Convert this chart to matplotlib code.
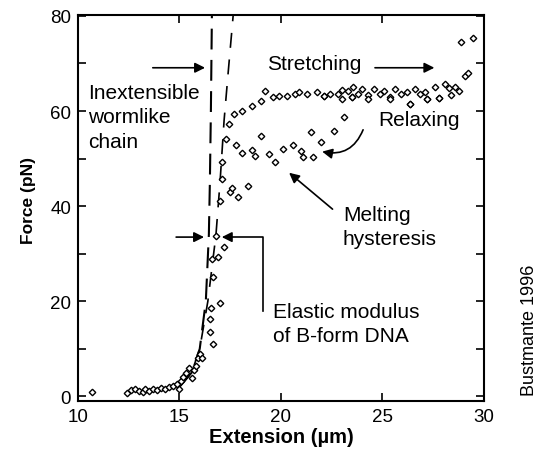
import matplotlib.pyplot as plt
from matplotlib.ticker import MultipleLocator, FixedLocator

plt.rcParams['font.family'] = ['Liberation Sans', 'DejaVu Sans']

# stretching branch (extension um, force pN)
stretch_ext = [10.7, 12.4, 12.6, 12.8, 13.0, 13.2, 13.3, 13.5, 13.7, 13.9, 14.1, 14.3,
               14.5, 14.7, 14.9, 15.0, 15.1, 15.2, 15.3, 15.45, 15.6, 15.7, 15.8, 15.9,
               16.0, 16.1, 16.65, 16.5, 16.5, 16.55, 17.0, 16.65, 16.6, 16.8, 17.2, 16.9,
               17.0, 17.45, 17.7, 18.1, 18.6, 19.0, 19.2, 19.6, 19.9, 20.3, 20.7, 20.9,
               21.3, 21.8, 22.1, 22.4, 22.8, 23.0, 23.3, 23.5, 23.55, 23.8, 24.0, 24.3,
               24.6, 24.9, 25.1, 25.4, 25.6, 25.9, 26.2, 26.35, 26.6, 26.85, 27.1, 27.2,
               27.6, 27.8, 28.1, 28.3, 28.6, 28.8, 29.05, 29.2, 28.9, 29.45,
               22.1, 23.0, 23.5, 24.3, 25.4, 26.35, 27.2, 27.8, 28.4]
stretch_force = [1.0, 0.8, 1.3, 1.6, 1.2, 1.0, 1.5, 1.2, 1.6, 1.3, 1.8, 1.5,
                 2.0, 2.2, 2.6, 1.6, 3.2, 4.0, 5.0, 6.0, 3.8, 5.5, 6.5, 8.0,
                 9.0, 8.0, 11.1, 13.6, 16.3, 18.6, 19.6, 25.1, 28.9, 33.7, 31.4, 29.3,
                 41.1, 57.2, 59.3, 60.0, 61.0, 62.1, 64.2, 62.9, 63.1, 63.1, 63.5, 63.9,
                 63.5, 63.9, 63.1, 63.5, 63.5, 64.5, 64.2, 62.9, 65.0, 63.5, 64.6, 63.3,
                 64.6, 63.5, 64.2, 62.9, 64.6, 63.6, 63.9, 61.5, 64.6, 63.5, 64.0, 62.5,
                 65.0, 62.7, 65.6, 64.8, 65.0, 64.2, 67.3, 67.9, 74.6, 75.3,
                 63.1, 62.5, 62.9, 62.6, 62.5, 61.5, 62.5, 62.7, 63.4]

# relaxing branch
relax_ext = [17.5, 17.6, 17.1, 17.1, 17.3, 17.8, 17.9, 18.1, 18.4, 18.6, 18.7, 19.0,
             19.4, 19.7, 20.1, 20.6, 21.0, 21.1, 21.5, 21.6, 22.0, 22.6, 23.1]
relax_force = [42.9, 43.8, 45.7, 49.2, 54.1, 52.8, 42.0, 51.1, 44.2, 51.8, 50.5, 54.7,
               50.9, 49.3, 52.0, 52.8, 51.6, 50.3, 55.6, 50.3, 53.4, 55.8, 58.7]

# model curves (dashed)
wlc_ext = [15.0, 15.6, 16.0, 16.3, 16.45, 16.5, 16.55, 16.6]
wlc_force = [2, 5, 10, 20, 34, 45, 60, 80.2]
ext_wlc_ext = [15.0, 15.6, 16.0, 16.4, 16.8, 17.0, 17.2, 17.4, 17.65]
ext_wlc_force = [2, 5, 10, 20, 34, 45, 58, 68, 80.2]

fig = plt.figure(figsize=(5.43, 4.56), dpi=100)
ax = fig.add_axes([0.1436, 0.118, 0.7474, 0.847])

ax.plot(wlc_ext, wlc_force, color='black', lw=1.5, dashes=(10, 5))
ax.plot(ext_wlc_ext, ext_wlc_force, color='black', lw=1.2, dashes=(9, 7))
ax.plot(stretch_ext, stretch_force, 'D', ms=3.3, mfc='white', mec='black', mew=1.0)
ax.plot(relax_ext, relax_force, 'D', ms=3.3, mfc='white', mec='black', mew=1.0)

ax.set_xlim(10, 30)
ax.set_ylim(-1, 80.2)
ax.xaxis.set_major_locator(MultipleLocator(5))
ax.yaxis.set_major_locator(FixedLocator([0, 20, 40, 60, 80]))
ax.yaxis.set_minor_locator(FixedLocator([10, 30, 50, 70]))
ax.tick_params(which='both', direction='in', top=True, right=True, length=6, width=1.2,
               labelsize=13.5, pad=5)
for s in ax.spines.values():
    s.set_linewidth(1.5)

ax.set_xlabel('Extension (\u00b5m)', fontsize=14.5, fontweight='bold', labelpad=1)
ax.set_ylabel('Force (pN)', fontsize=12.5, fontweight='bold')
ax.yaxis.set_label_coords(-0.103, 0.521)

aprops = dict(arrowstyle='-|>', color='black', lw=1.2, mutation_scale=15)
fs = 15
ls = 1.35
ax.text(19.3, 70.0, 'Stretching', fontsize=fs, va='center')
ax.annotate('', xy=(27.7, 69.1), xytext=(24.5, 69.1), arrowprops=aprops)
ax.text(10.5, 58.8, 'Inextensible\nwormlike\nchain', fontsize=fs, va='center',
        linespacing=ls)
ax.annotate('', xy=(16.4, 69.1), xytext=(13.55, 69.1), arrowprops=aprops)
ax.text(24.8, 58.3, 'Relaxing', fontsize=fs, va='center')
ax.annotate('', xy=(21.9, 51.6), xytext=(24.1, 56.6),
            arrowprops=dict(aprops, connectionstyle='arc3,rad=-0.45'))
ax.text(23.05, 35.8, 'Melting\nhysteresis', fontsize=fs, va='center', linespacing=ls)
ax.annotate('', xy=(20.3, 47.4), xytext=(22.65, 39.0), arrowprops=aprops)
ax.text(19.6, 15.3, 'Elastic modulus\nof B-form DNA', fontsize=fs, va='center',
        linespacing=ls)
ax.plot([19.11, 19.11, 17.6], [18.0, 33.5, 33.5], color='black', lw=1.2)
ax.annotate('', xy=(16.95, 33.5), xytext=(17.7, 33.5), arrowprops=aprops)
ax.annotate('', xy=(16.35, 33.5), xytext=(14.7, 33.5), arrowprops=aprops)

fig.text(0.976, 0.276, 'Bustmante 1996', rotation=90, fontsize=13, ha='center',
         va='center')

fig.savefig('out.png', dpi=100)
